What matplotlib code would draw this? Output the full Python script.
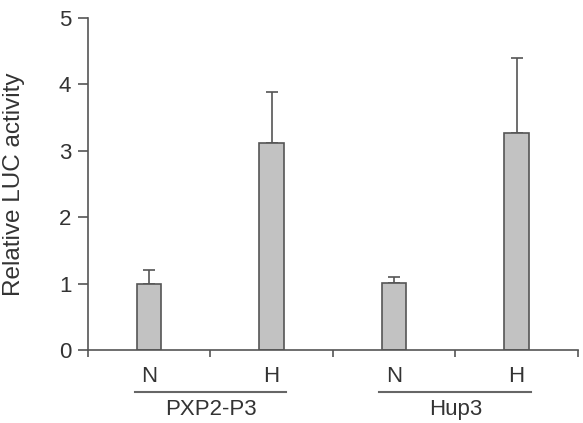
import matplotlib.pyplot as plt
from matplotlib.transforms import blended_transform_factory

plt.rcParams['font.family'] = ['Liberation Sans', 'DejaVu Sans']

conditions = ["N", "H", "N", "H"]
groups = ["PXP2-P3", "Hup3"]
values = [1.0, 3.12, 1.01, 3.27]
errors = [0.2, 0.77, 0.09, 1.12]

text_color = "#333333"
axis_color = "#555555"

fig = plt.figure(figsize=(5.83, 4.23), dpi=100)
ax = fig.add_axes([0.151, 0.1726, 0.84, 0.785])

x = list(range(len(values)))
ax.bar(x, values, width=0.2, color="#c2c2c2", edgecolor="#555555", linewidth=1.2, zorder=2)
ax.errorbar(x, values, yerr=[[0] * len(errors), errors], fmt="none",
            ecolor="#555555", elinewidth=1.2, capsize=4.3, capthick=1.2, zorder=1)

ax.set_xlim(-0.5, 3.5)
ax.set_ylim(0, 5)
ax.set_yticks(range(6))
ax.set_xticks([-0.5, 0.5, 1.5, 2.5, 3.5])
ax.set_xticklabels([])

for side in ["top", "right"]:
    ax.spines[side].set_visible(False)
for side in ["left", "bottom"]:
    ax.spines[side].set_color(axis_color)
    ax.spines[side].set_linewidth(1.2)

ax.tick_params(axis="both", direction="out", width=1.2, color=axis_color,
               labelsize=16, labelcolor=text_color)
ax.tick_params(axis="y", length=7, pad=5)
ax.tick_params(axis="x", length=5)

fig.text(14 / 583, 1 - 184 / 423, "Relative LUC activity", rotation=90,
         ha="center", va="center", fontsize=17.5, color=text_color)

trans = blended_transform_factory(ax.transData, ax.transAxes)
for xi, c in zip(x, conditions):
    ax.text(xi, -0.081, c, transform=trans, ha="center", va="center",
            fontsize=16, color=text_color)

for gi, g in enumerate(groups):
    center = 2 * gi + 0.5
    ax.plot([center - 0.62, center + 0.62], [-0.127, -0.127], transform=trans,
            color="#666666", linewidth=1.5, clip_on=False)
    ax.text(center, -0.178, g, transform=trans, ha="center", va="center",
            fontsize=16, color=text_color)

fig.savefig("out.png", dpi=100)
